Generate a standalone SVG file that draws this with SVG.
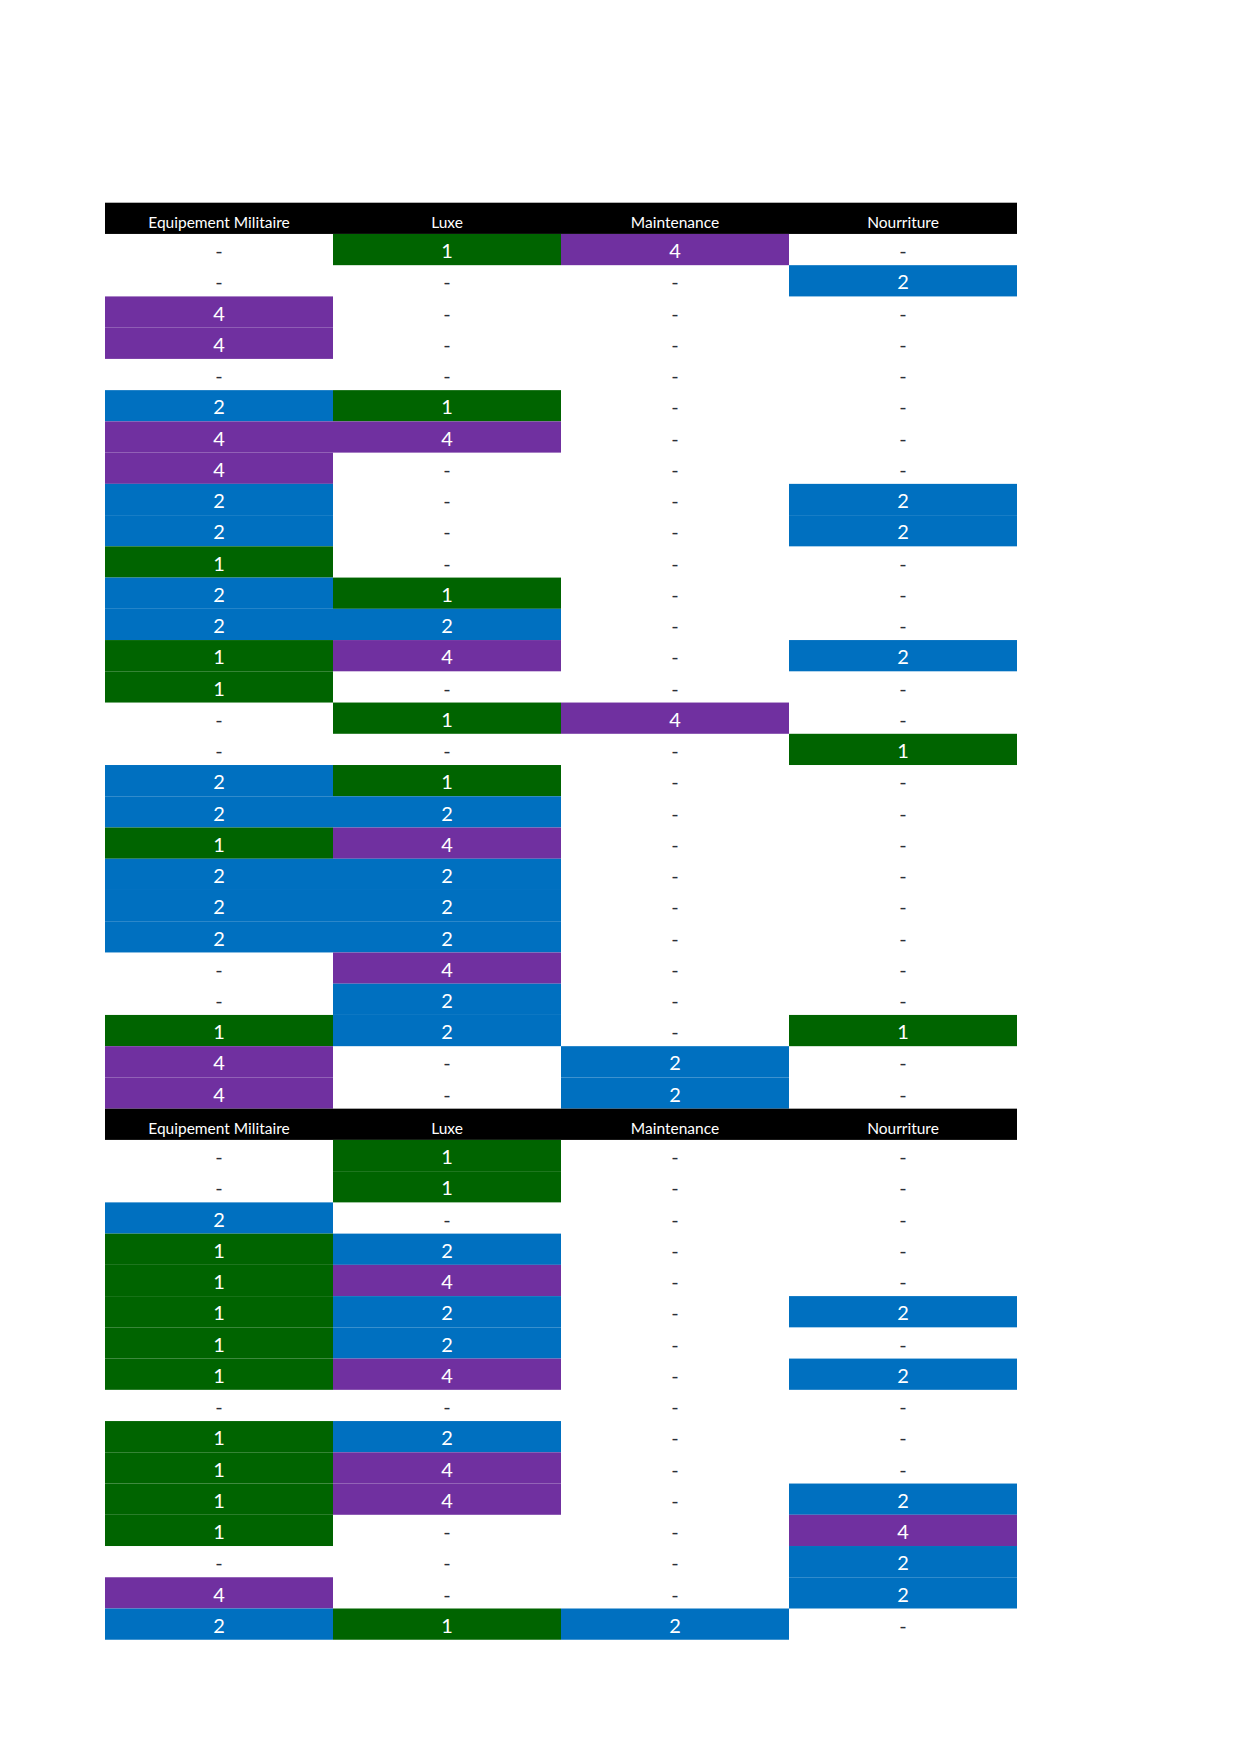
<svg xmlns="http://www.w3.org/2000/svg" width="1241" height="1754" viewBox="0 0 1241 1754">
<style>
.g{fill:#006400}.p{fill:#7030A0}.b{fill:#0070C0}.h{fill:#000}
text{font-family:Lato,"Open Sans","Liberation Sans",sans-serif;text-anchor:middle}
.w{fill:#fff;font-size:20px}
.d{fill:#2b2f38;font-size:20px}
.ht{fill:#fff;font-size:15.5px}
</style>
<rect width="1241" height="1754" fill="#fff"/>
<g id="table1" transform="translate(0,-0.3)">
<g id="t1-header"><rect class="h" x="105" y="203" width="912" height="31.24"/><text class="ht" x="219" y="228.5">Equipement Militaire</text><text class="ht" x="447" y="228.5">Luxe</text><text class="ht" x="675" y="228.5">Maintenance</text><text class="ht" x="903" y="228.5">Nourriture</text></g>
<g id="t1-r1"><text class="d" x="219" y="258.54">-</text><rect class="g" x="333" y="234.24" width="228" height="31.24"/><text class="w" x="447" y="258.54">1</text><rect class="p" x="561" y="234.24" width="228" height="31.24"/><text class="w" x="675" y="258.54">4</text><text class="d" x="903" y="258.54">-</text></g>
<g id="t1-r2"><text class="d" x="219" y="289.78">-</text><text class="d" x="447" y="289.78">-</text><text class="d" x="675" y="289.78">-</text><rect class="b" x="789" y="265.48" width="228" height="31.24"/><text class="w" x="903" y="289.78">2</text></g>
<g id="t1-r3"><rect class="p" x="105" y="296.72" width="228" height="31.24"/><text class="w" x="219" y="321.02">4</text><text class="d" x="447" y="321.02">-</text><text class="d" x="675" y="321.02">-</text><text class="d" x="903" y="321.02">-</text></g>
<g id="t1-r4"><rect class="p" x="105" y="327.96" width="228" height="31.24"/><text class="w" x="219" y="352.26">4</text><text class="d" x="447" y="352.26">-</text><text class="d" x="675" y="352.26">-</text><text class="d" x="903" y="352.26">-</text></g>
<g id="t1-r5"><text class="d" x="219" y="383.5">-</text><text class="d" x="447" y="383.5">-</text><text class="d" x="675" y="383.5">-</text><text class="d" x="903" y="383.5">-</text></g>
<g id="t1-r6"><rect class="b" x="105" y="390.44" width="228" height="31.24"/><text class="w" x="219" y="414.74">2</text><rect class="g" x="333" y="390.44" width="228" height="31.24"/><text class="w" x="447" y="414.74">1</text><text class="d" x="675" y="414.74">-</text><text class="d" x="903" y="414.74">-</text></g>
<g id="t1-r7"><rect class="p" x="105" y="421.68" width="228" height="31.24"/><text class="w" x="219" y="445.98">4</text><rect class="p" x="333" y="421.68" width="228" height="31.24"/><text class="w" x="447" y="445.98">4</text><text class="d" x="675" y="445.98">-</text><text class="d" x="903" y="445.98">-</text></g>
<g id="t1-r8"><rect class="p" x="105" y="452.92" width="228" height="31.24"/><text class="w" x="219" y="477.22">4</text><text class="d" x="447" y="477.22">-</text><text class="d" x="675" y="477.22">-</text><text class="d" x="903" y="477.22">-</text></g>
<g id="t1-r9"><rect class="b" x="105" y="484.16" width="228" height="31.24"/><text class="w" x="219" y="508.46">2</text><text class="d" x="447" y="508.46">-</text><text class="d" x="675" y="508.46">-</text><rect class="b" x="789" y="484.16" width="228" height="31.24"/><text class="w" x="903" y="508.46">2</text></g>
<g id="t1-r10"><rect class="b" x="105" y="515.4" width="228" height="31.24"/><text class="w" x="219" y="539.7">2</text><text class="d" x="447" y="539.7">-</text><text class="d" x="675" y="539.7">-</text><rect class="b" x="789" y="515.4" width="228" height="31.24"/><text class="w" x="903" y="539.7">2</text></g>
<g id="t1-r11"><rect class="g" x="105" y="546.64" width="228" height="31.24"/><text class="w" x="219" y="570.94">1</text><text class="d" x="447" y="570.94">-</text><text class="d" x="675" y="570.94">-</text><text class="d" x="903" y="570.94">-</text></g>
<g id="t1-r12"><rect class="b" x="105" y="577.88" width="228" height="31.24"/><text class="w" x="219" y="602.18">2</text><rect class="g" x="333" y="577.88" width="228" height="31.24"/><text class="w" x="447" y="602.18">1</text><text class="d" x="675" y="602.18">-</text><text class="d" x="903" y="602.18">-</text></g>
<g id="t1-r13"><rect class="b" x="105" y="609.12" width="228" height="31.24"/><text class="w" x="219" y="633.42">2</text><rect class="b" x="333" y="609.12" width="228" height="31.24"/><text class="w" x="447" y="633.42">2</text><text class="d" x="675" y="633.42">-</text><text class="d" x="903" y="633.42">-</text></g>
<g id="t1-r14"><rect class="g" x="105" y="640.36" width="228" height="31.24"/><text class="w" x="219" y="664.66">1</text><rect class="p" x="333" y="640.36" width="228" height="31.24"/><text class="w" x="447" y="664.66">4</text><text class="d" x="675" y="664.66">-</text><rect class="b" x="789" y="640.36" width="228" height="31.24"/><text class="w" x="903" y="664.66">2</text></g>
<g id="t1-r15"><rect class="g" x="105" y="671.6" width="228" height="31.24"/><text class="w" x="219" y="695.9">1</text><text class="d" x="447" y="695.9">-</text><text class="d" x="675" y="695.9">-</text><text class="d" x="903" y="695.9">-</text></g>
<g id="t1-r16"><text class="d" x="219" y="727.14">-</text><rect class="g" x="333" y="702.84" width="228" height="31.24"/><text class="w" x="447" y="727.14">1</text><rect class="p" x="561" y="702.84" width="228" height="31.24"/><text class="w" x="675" y="727.14">4</text><text class="d" x="903" y="727.14">-</text></g>
<g id="t1-r17"><text class="d" x="219" y="758.38">-</text><text class="d" x="447" y="758.38">-</text><text class="d" x="675" y="758.38">-</text><rect class="g" x="789" y="734.08" width="228" height="31.24"/><text class="w" x="903" y="758.38">1</text></g>
<g id="t1-r18"><rect class="b" x="105" y="765.32" width="228" height="31.24"/><text class="w" x="219" y="789.62">2</text><rect class="g" x="333" y="765.32" width="228" height="31.24"/><text class="w" x="447" y="789.62">1</text><text class="d" x="675" y="789.62">-</text><text class="d" x="903" y="789.62">-</text></g>
<g id="t1-r19"><rect class="b" x="105" y="796.56" width="228" height="31.24"/><text class="w" x="219" y="820.86">2</text><rect class="b" x="333" y="796.56" width="228" height="31.24"/><text class="w" x="447" y="820.86">2</text><text class="d" x="675" y="820.86">-</text><text class="d" x="903" y="820.86">-</text></g>
<g id="t1-r20"><rect class="g" x="105" y="827.8" width="228" height="31.24"/><text class="w" x="219" y="852.1">1</text><rect class="p" x="333" y="827.8" width="228" height="31.24"/><text class="w" x="447" y="852.1">4</text><text class="d" x="675" y="852.1">-</text><text class="d" x="903" y="852.1">-</text></g>
<g id="t1-r21"><rect class="b" x="105" y="859.04" width="228" height="31.24"/><text class="w" x="219" y="883.34">2</text><rect class="b" x="333" y="859.04" width="228" height="31.24"/><text class="w" x="447" y="883.34">2</text><text class="d" x="675" y="883.34">-</text><text class="d" x="903" y="883.34">-</text></g>
<g id="t1-r22"><rect class="b" x="105" y="890.28" width="228" height="31.24"/><text class="w" x="219" y="914.58">2</text><rect class="b" x="333" y="890.28" width="228" height="31.24"/><text class="w" x="447" y="914.58">2</text><text class="d" x="675" y="914.58">-</text><text class="d" x="903" y="914.58">-</text></g>
<g id="t1-r23"><rect class="b" x="105" y="921.52" width="228" height="31.24"/><text class="w" x="219" y="945.82">2</text><rect class="b" x="333" y="921.52" width="228" height="31.24"/><text class="w" x="447" y="945.82">2</text><text class="d" x="675" y="945.82">-</text><text class="d" x="903" y="945.82">-</text></g>
<g id="t1-r24"><text class="d" x="219" y="977.06">-</text><rect class="p" x="333" y="952.76" width="228" height="31.24"/><text class="w" x="447" y="977.06">4</text><text class="d" x="675" y="977.06">-</text><text class="d" x="903" y="977.06">-</text></g>
<g id="t1-r25"><text class="d" x="219" y="1008.3">-</text><rect class="b" x="333" y="984" width="228" height="31.24"/><text class="w" x="447" y="1008.3">2</text><text class="d" x="675" y="1008.3">-</text><text class="d" x="903" y="1008.3">-</text></g>
<g id="t1-r26"><rect class="g" x="105" y="1015.24" width="228" height="31.24"/><text class="w" x="219" y="1039.54">1</text><rect class="b" x="333" y="1015.24" width="228" height="31.24"/><text class="w" x="447" y="1039.54">2</text><text class="d" x="675" y="1039.54">-</text><rect class="g" x="789" y="1015.24" width="228" height="31.24"/><text class="w" x="903" y="1039.54">1</text></g>
<g id="t1-r27"><rect class="p" x="105" y="1046.48" width="228" height="31.24"/><text class="w" x="219" y="1070.78">4</text><text class="d" x="447" y="1070.78">-</text><rect class="b" x="561" y="1046.48" width="228" height="31.24"/><text class="w" x="675" y="1070.78">2</text><text class="d" x="903" y="1070.78">-</text></g>
<g id="t1-r28"><rect class="p" x="105" y="1077.72" width="228" height="31.24"/><text class="w" x="219" y="1102.02">4</text><text class="d" x="447" y="1102.02">-</text><rect class="b" x="561" y="1077.72" width="228" height="31.24"/><text class="w" x="675" y="1102.02">2</text><text class="d" x="903" y="1102.02">-</text></g>
</g>
<g id="table2" transform="translate(0,-0.3)">
<g id="t2-header"><rect class="h" x="105" y="1108.96" width="912" height="31.24"/><text class="ht" x="219" y="1134.46">Equipement Militaire</text><text class="ht" x="447" y="1134.46">Luxe</text><text class="ht" x="675" y="1134.46">Maintenance</text><text class="ht" x="903" y="1134.46">Nourriture</text></g>
<g id="t2-r1"><text class="d" x="219" y="1164.5">-</text><rect class="g" x="333" y="1140.2" width="228" height="31.24"/><text class="w" x="447" y="1164.5">1</text><text class="d" x="675" y="1164.5">-</text><text class="d" x="903" y="1164.5">-</text></g>
<g id="t2-r2"><text class="d" x="219" y="1195.74">-</text><rect class="g" x="333" y="1171.44" width="228" height="31.24"/><text class="w" x="447" y="1195.74">1</text><text class="d" x="675" y="1195.74">-</text><text class="d" x="903" y="1195.74">-</text></g>
<g id="t2-r3"><rect class="b" x="105" y="1202.68" width="228" height="31.24"/><text class="w" x="219" y="1226.98">2</text><text class="d" x="447" y="1226.98">-</text><text class="d" x="675" y="1226.98">-</text><text class="d" x="903" y="1226.98">-</text></g>
<g id="t2-r4"><rect class="g" x="105" y="1233.92" width="228" height="31.24"/><text class="w" x="219" y="1258.22">1</text><rect class="b" x="333" y="1233.92" width="228" height="31.24"/><text class="w" x="447" y="1258.22">2</text><text class="d" x="675" y="1258.22">-</text><text class="d" x="903" y="1258.22">-</text></g>
<g id="t2-r5"><rect class="g" x="105" y="1265.16" width="228" height="31.24"/><text class="w" x="219" y="1289.46">1</text><rect class="p" x="333" y="1265.16" width="228" height="31.24"/><text class="w" x="447" y="1289.46">4</text><text class="d" x="675" y="1289.46">-</text><text class="d" x="903" y="1289.46">-</text></g>
<g id="t2-r6"><rect class="g" x="105" y="1296.4" width="228" height="31.24"/><text class="w" x="219" y="1320.7">1</text><rect class="b" x="333" y="1296.4" width="228" height="31.24"/><text class="w" x="447" y="1320.7">2</text><text class="d" x="675" y="1320.7">-</text><rect class="b" x="789" y="1296.4" width="228" height="31.24"/><text class="w" x="903" y="1320.7">2</text></g>
<g id="t2-r7"><rect class="g" x="105" y="1327.64" width="228" height="31.24"/><text class="w" x="219" y="1351.94">1</text><rect class="b" x="333" y="1327.64" width="228" height="31.24"/><text class="w" x="447" y="1351.94">2</text><text class="d" x="675" y="1351.94">-</text><text class="d" x="903" y="1351.94">-</text></g>
<g id="t2-r8"><rect class="g" x="105" y="1358.88" width="228" height="31.24"/><text class="w" x="219" y="1383.18">1</text><rect class="p" x="333" y="1358.88" width="228" height="31.24"/><text class="w" x="447" y="1383.18">4</text><text class="d" x="675" y="1383.18">-</text><rect class="b" x="789" y="1358.88" width="228" height="31.24"/><text class="w" x="903" y="1383.18">2</text></g>
<g id="t2-r9"><text class="d" x="219" y="1414.42">-</text><text class="d" x="447" y="1414.42">-</text><text class="d" x="675" y="1414.42">-</text><text class="d" x="903" y="1414.42">-</text></g>
<g id="t2-r10"><rect class="g" x="105" y="1421.36" width="228" height="31.24"/><text class="w" x="219" y="1445.66">1</text><rect class="b" x="333" y="1421.36" width="228" height="31.24"/><text class="w" x="447" y="1445.66">2</text><text class="d" x="675" y="1445.66">-</text><text class="d" x="903" y="1445.66">-</text></g>
<g id="t2-r11"><rect class="g" x="105" y="1452.6" width="228" height="31.24"/><text class="w" x="219" y="1476.9">1</text><rect class="p" x="333" y="1452.6" width="228" height="31.24"/><text class="w" x="447" y="1476.9">4</text><text class="d" x="675" y="1476.9">-</text><text class="d" x="903" y="1476.9">-</text></g>
<g id="t2-r12"><rect class="g" x="105" y="1483.84" width="228" height="31.24"/><text class="w" x="219" y="1508.14">1</text><rect class="p" x="333" y="1483.84" width="228" height="31.24"/><text class="w" x="447" y="1508.14">4</text><text class="d" x="675" y="1508.14">-</text><rect class="b" x="789" y="1483.84" width="228" height="31.24"/><text class="w" x="903" y="1508.14">2</text></g>
<g id="t2-r13"><rect class="g" x="105" y="1515.08" width="228" height="31.24"/><text class="w" x="219" y="1539.38">1</text><text class="d" x="447" y="1539.38">-</text><text class="d" x="675" y="1539.38">-</text><rect class="p" x="789" y="1515.08" width="228" height="31.24"/><text class="w" x="903" y="1539.38">4</text></g>
<g id="t2-r14"><text class="d" x="219" y="1570.62">-</text><text class="d" x="447" y="1570.62">-</text><text class="d" x="675" y="1570.62">-</text><rect class="b" x="789" y="1546.32" width="228" height="31.24"/><text class="w" x="903" y="1570.62">2</text></g>
<g id="t2-r15"><rect class="p" x="105" y="1577.56" width="228" height="31.24"/><text class="w" x="219" y="1601.86">4</text><text class="d" x="447" y="1601.86">-</text><text class="d" x="675" y="1601.86">-</text><rect class="b" x="789" y="1577.56" width="228" height="31.24"/><text class="w" x="903" y="1601.86">2</text></g>
<g id="t2-r16"><rect class="b" x="105" y="1608.8" width="228" height="31.24"/><text class="w" x="219" y="1633.1">2</text><rect class="g" x="333" y="1608.8" width="228" height="31.24"/><text class="w" x="447" y="1633.1">1</text><rect class="b" x="561" y="1608.8" width="228" height="31.24"/><text class="w" x="675" y="1633.1">2</text><text class="d" x="903" y="1633.1">-</text></g>
</g>
<g id="connectors"/>
</svg>
